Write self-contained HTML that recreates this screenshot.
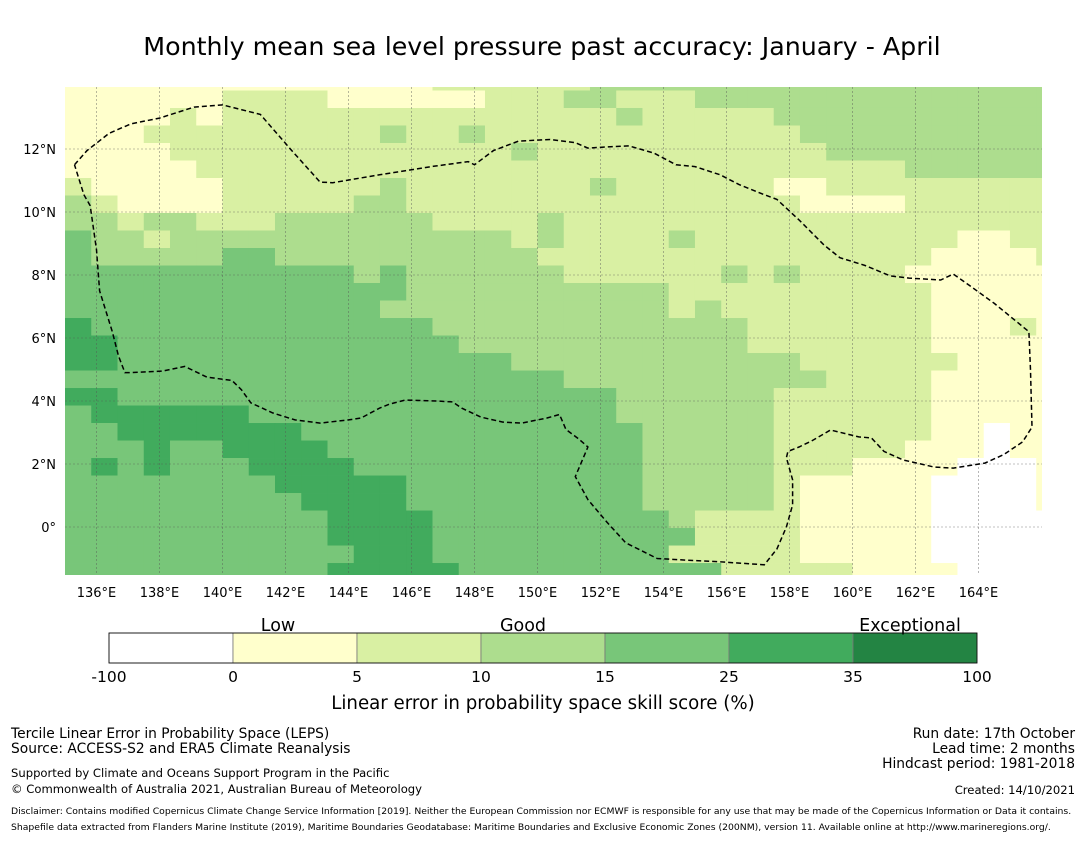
<!DOCTYPE html>
<html><head><meta charset="utf-8"><style>
body{margin:0;background:#fff;width:1085px;height:839px;overflow:hidden;font-family:"Liberation Sans","DejaVu Sans",sans-serif;}
svg text{font-family:"DejaVu Sans","Liberation Sans",sans-serif;}
</style></head><body>
<svg id="chart" width="1085" height="839" xmlns="http://www.w3.org/2000/svg">
<defs><clipPath id="mapclip"><rect x="65" y="87" width="977" height="488"/></clipPath></defs>
<text x="542" y="55" font-size="25.3" text-anchor="middle">Monthly mean sea level pressure past accuracy: January - April</text>
<g id="cells" clip-path="url(#mapclip)"></g>
<g id="grid" clip-path="url(#mapclip)"></g>
<path id="eez" fill="none" stroke="#000" stroke-width="1.5" stroke-dasharray="5,3"/>
<g id="xticks"></g>
<g id="yticks"></g>
<g id="legend"></g>
<text x="278" y="631" font-size="17.5" text-anchor="middle">Low</text>
<text x="523" y="631" font-size="17.5" text-anchor="middle">Good</text>
<text x="910" y="631" font-size="17.5" text-anchor="middle">Exceptional</text>
<text x="543" y="709" font-size="18.2" text-anchor="middle">Linear error in probability space skill score (%)</text>
<g font-size="13.8">
<text x="11" y="738">Tercile Linear Error in Probability Space (LEPS)</text>
<text x="11" y="753">Source: ACCESS-S2 and ERA5 Climate Reanalysis</text>
<text x="11" y="777" font-size="11.6">Supported by Climate and Oceans Support Program in the Pacific</text>
<text x="11" y="793" font-size="11.6">© Commonwealth of Australia 2021, Australian Bureau of Meteorology</text>
</g>
<g font-size="13.8" text-anchor="end">
<text x="1075" y="738">Run date: 17th October</text>
<text x="1075" y="753">Lead time: 2 months</text>
<text x="1075" y="768">Hindcast period: 1981-2018</text>
<text x="1075" y="794" font-size="11.6">Created: 14/10/2021</text>
</g>
<text x="11" y="814" font-size="9.25">Disclaimer: Contains modified Copernicus Climate Change Service Information [2019]. Neither the European Commission nor ECMWF is responsible for any use that may be made of the Copernicus Information or Data it contains.</text>
<text x="11" y="830" font-size="9.25">Shapefile data extracted from Flanders Marine Institute (2019), Maritime Boundaries Geodatabase: Maritime Boundaries and Exclusive Economic Zones (200NM), version 11. Available online at http://www.marineregions.org/.</text>
</svg>
<script>
// skill category per grid cell (0..6), rows north->south, cols west->east
const skillRows = [
"11111111111111222222333333333333333333",
"11111122221111112223322233333333333333",
"11112122222222222222232222233333333333",
"11122222222232232222222222223333333333",
"11112222222222222322222222222333333333",
"11111222222222222222222222222222333333",
"21111122222232222222322222211222222222",
"32111122222332222222222222221111222222",
"33233222333333222232222222222222222222",
"43323333333333333232222322222222221122",
"43333344333333333322222222222222211112",
"44444444444343333332222223232222111111",
"44444444444443333333333222222222211111",
"44444444444433333333333232222222211111",
"54444444444444333333333333222222211121",
"55444444444444433333333333222222211111",
"55444444444444444333333333332222221111",
"44444444444444444443333333333222211111",
"55444444444444444444433333322222211111",
"45555554444444444444433333322222211111",
"44555555544444444444443333322222211011",
"44454455554444444444443333322222111011",
"45454445555444444444443333322211110001",
"44444444555554444444443333321111100001",
"44444444455554444444443333321111100001",
"44444444445555444444444322221111100000",
"44444444445555444444444422221111100000",
"44444444444555444444444222221111100000",
"44444444445555544444444442222211110000"
];
const lonTicks = [136,138,140,142,144,146,148,150,152,154,156,158,160,162,164];
const latTicks = [0,2,4,6,8,10,12];
const cbBounds = ["-100","0","5","10","15","25","35","100"];
const cbColors = ["#ffffff","#ffffcc","#d9f0a3","#addd8e","#78c679","#41ab5d","#238443"];
const boundaryLonLat = [[135.3,11.5],[135.7,11.95],[136.4,12.5],[137.1,12.8],[138,12.98],[139.1,13.33],[140,13.4],[141.2,13.1],[142.2,11.95],[143.1,10.95],[143.5,10.93],[145.1,11.2],[146.7,11.45],[147.8,11.6],[148,11.5],[148.6,11.95],[149.4,12.25],[150.4,12.3],[151.2,12.2],[151.6,12.03],[152.1,12.06],[152.9,12.1],[153.7,11.87],[154.4,11.5],[155,11.44],[155.8,11.18],[156.4,10.87],[157.2,10.55],[157.6,10.4],[158.3,9.75],[159.1,8.95],[159.6,8.55],[160.4,8.3],[161.2,7.97],[161.8,7.9],[162.8,7.84],[163.2,8.03],[163.7,7.68],[164.5,7.1],[165.6,6.2],[165.65,4.98],[165.7,3.17],[165.4,2.7],[164.8,2.3],[164.2,2.03],[163.2,1.87],[162.6,1.9],[161.6,2.13],[161,2.4],[160.6,2.83],[160.2,2.86],[159.3,3.08],[158.7,2.73],[158.3,2.54],[157.95,2.4],[157.9,2.2],[158.1,1.5],[158.1,0.7],[157.9,0],[157.6,-0.7],[157.2,-1.2],[155.7,-1.1],[154.7,-1.05],[153.8,-1],[152.8,-0.5],[152.2,0.16],[151.6,0.87],[151.2,1.6],[151.6,2.54],[151.3,2.8],[150.9,3.1],[150.7,3.57],[150.3,3.46],[149.5,3.3],[148.9,3.33],[148.2,3.49],[147.6,3.77],[147.3,3.97],[146.8,4.0],[145.8,4.03],[145.3,3.9],[145,3.78],[144.4,3.46],[144,3.4],[143.1,3.3],[142.3,3.4],[141.6,3.62],[140.9,3.94],[140.6,4.36],[140.3,4.65],[139.5,4.76],[138.8,5.1],[138.1,4.95],[137.1,4.9],[136.9,4.9],[136.7,5.43],[136.5,6.2],[136.1,7.5],[136,8.8],[135.8,10.2],[135.6,10.55],[135.3,11.5]];

const NS = "http://www.w3.org/2000/svg";
function xOf(lon){ return 65 + (lon - 135) * 31.5; }
function yOf(lat){ return 527 - lat * 31.5; }
const dLon = 0.8333, dLat = 0.5556, lat0 = 14.413;

const cells = document.getElementById('cells');
skillRows.forEach((row, j) => {
  for (let c = 0; c < row.length; c++) {
    const v = +row[c];
    const x1 = xOf(135 + c * dLon), x2 = xOf(135 + (c + 1) * dLon);
    const y1 = yOf(lat0 - j * dLat), y2 = yOf(lat0 - (j + 1) * dLat);
    const r = document.createElementNS(NS, 'rect');
    r.setAttribute('x', x1); r.setAttribute('y', y1);
    r.setAttribute('width', x2 - x1 + 0.4); r.setAttribute('height', y2 - y1 + 0.4);
    r.setAttribute('fill', cbColors[v]);
    
    
    cells.appendChild(r);
  }
});

const grid = document.getElementById('grid');
const xt = document.getElementById('xticks');
lonTicks.forEach(lon => {
  const l = document.createElementNS(NS, 'line');
  l.setAttribute('x1', xOf(lon)); l.setAttribute('x2', xOf(lon));
  l.setAttribute('y1', 87); l.setAttribute('y2', 575);
  l.setAttribute('stroke', '#555'); l.setAttribute('stroke-width', '0.6'); l.setAttribute('stroke-dasharray', '2,2'); l.setAttribute('opacity', '0.7');
  
  
  grid.appendChild(l);
  const t = document.createElementNS(NS, 'text');
  t.setAttribute('x', xOf(lon)); t.setAttribute('y', 597);
  t.setAttribute('font-size', '13'); t.setAttribute('text-anchor', 'middle');
  t.textContent = lon + '°E';
  
  
  xt.appendChild(t);
});
const yt = document.getElementById('yticks');
latTicks.forEach(lat => {
  const l = document.createElementNS(NS, 'line');
  l.setAttribute('x1', 65); l.setAttribute('x2', 1042);
  l.setAttribute('y1', yOf(lat)); l.setAttribute('y2', yOf(lat));
  l.setAttribute('stroke', '#555'); l.setAttribute('stroke-width', '0.6'); l.setAttribute('stroke-dasharray', '2,2'); l.setAttribute('opacity', '0.7');
  
  
  grid.appendChild(l);
  const t = document.createElementNS(NS, 'text');
  t.setAttribute('x', 56); t.setAttribute('y', yOf(lat) + 5);
  t.setAttribute('font-size', '13'); t.setAttribute('text-anchor', 'end');
  t.textContent = lat === 0 ? '0°' : lat + '°N';
  
  
  yt.appendChild(t);
});

const eez = document.getElementById('eez');
eez.setAttribute('d', boundaryLonLat.map((p, i) => (i ? 'L' : 'M') + xOf(p[0]).toFixed(1) + ',' + yOf(p[1]).toFixed(1)).join(' '));

const lg = document.getElementById('legend');
const cbX0 = 109, cbW = 868, cbY = 633, cbH = 30, seg = cbW / cbColors.length;
cbColors.forEach((col, i) => {
  const r = document.createElementNS(NS, 'rect');
  r.setAttribute('x', cbX0 + i * seg); r.setAttribute('y', cbY);
  r.setAttribute('width', seg); r.setAttribute('height', cbH);
  r.setAttribute('fill', col); r.setAttribute('stroke', '#777'); r.setAttribute('stroke-width', '0.8');
  
  
  lg.appendChild(r);
});
const frame = document.createElementNS(NS, 'rect');
frame.setAttribute('x', cbX0); frame.setAttribute('y', cbY); frame.setAttribute('width', cbW); frame.setAttribute('height', cbH);
frame.setAttribute('fill', 'none'); frame.setAttribute('stroke', '#000'); frame.setAttribute('stroke-width', '0.8');


lg.appendChild(frame);
cbBounds.forEach((b, i) => {
  const t = document.createElementNS(NS, 'text');
  t.setAttribute('x', cbX0 + i * seg); t.setAttribute('y', 682);
  t.setAttribute('font-size', '15.5'); t.setAttribute('text-anchor', 'middle');
  t.textContent = b;
  
  
  lg.appendChild(t);
});
</script>
</body></html>
